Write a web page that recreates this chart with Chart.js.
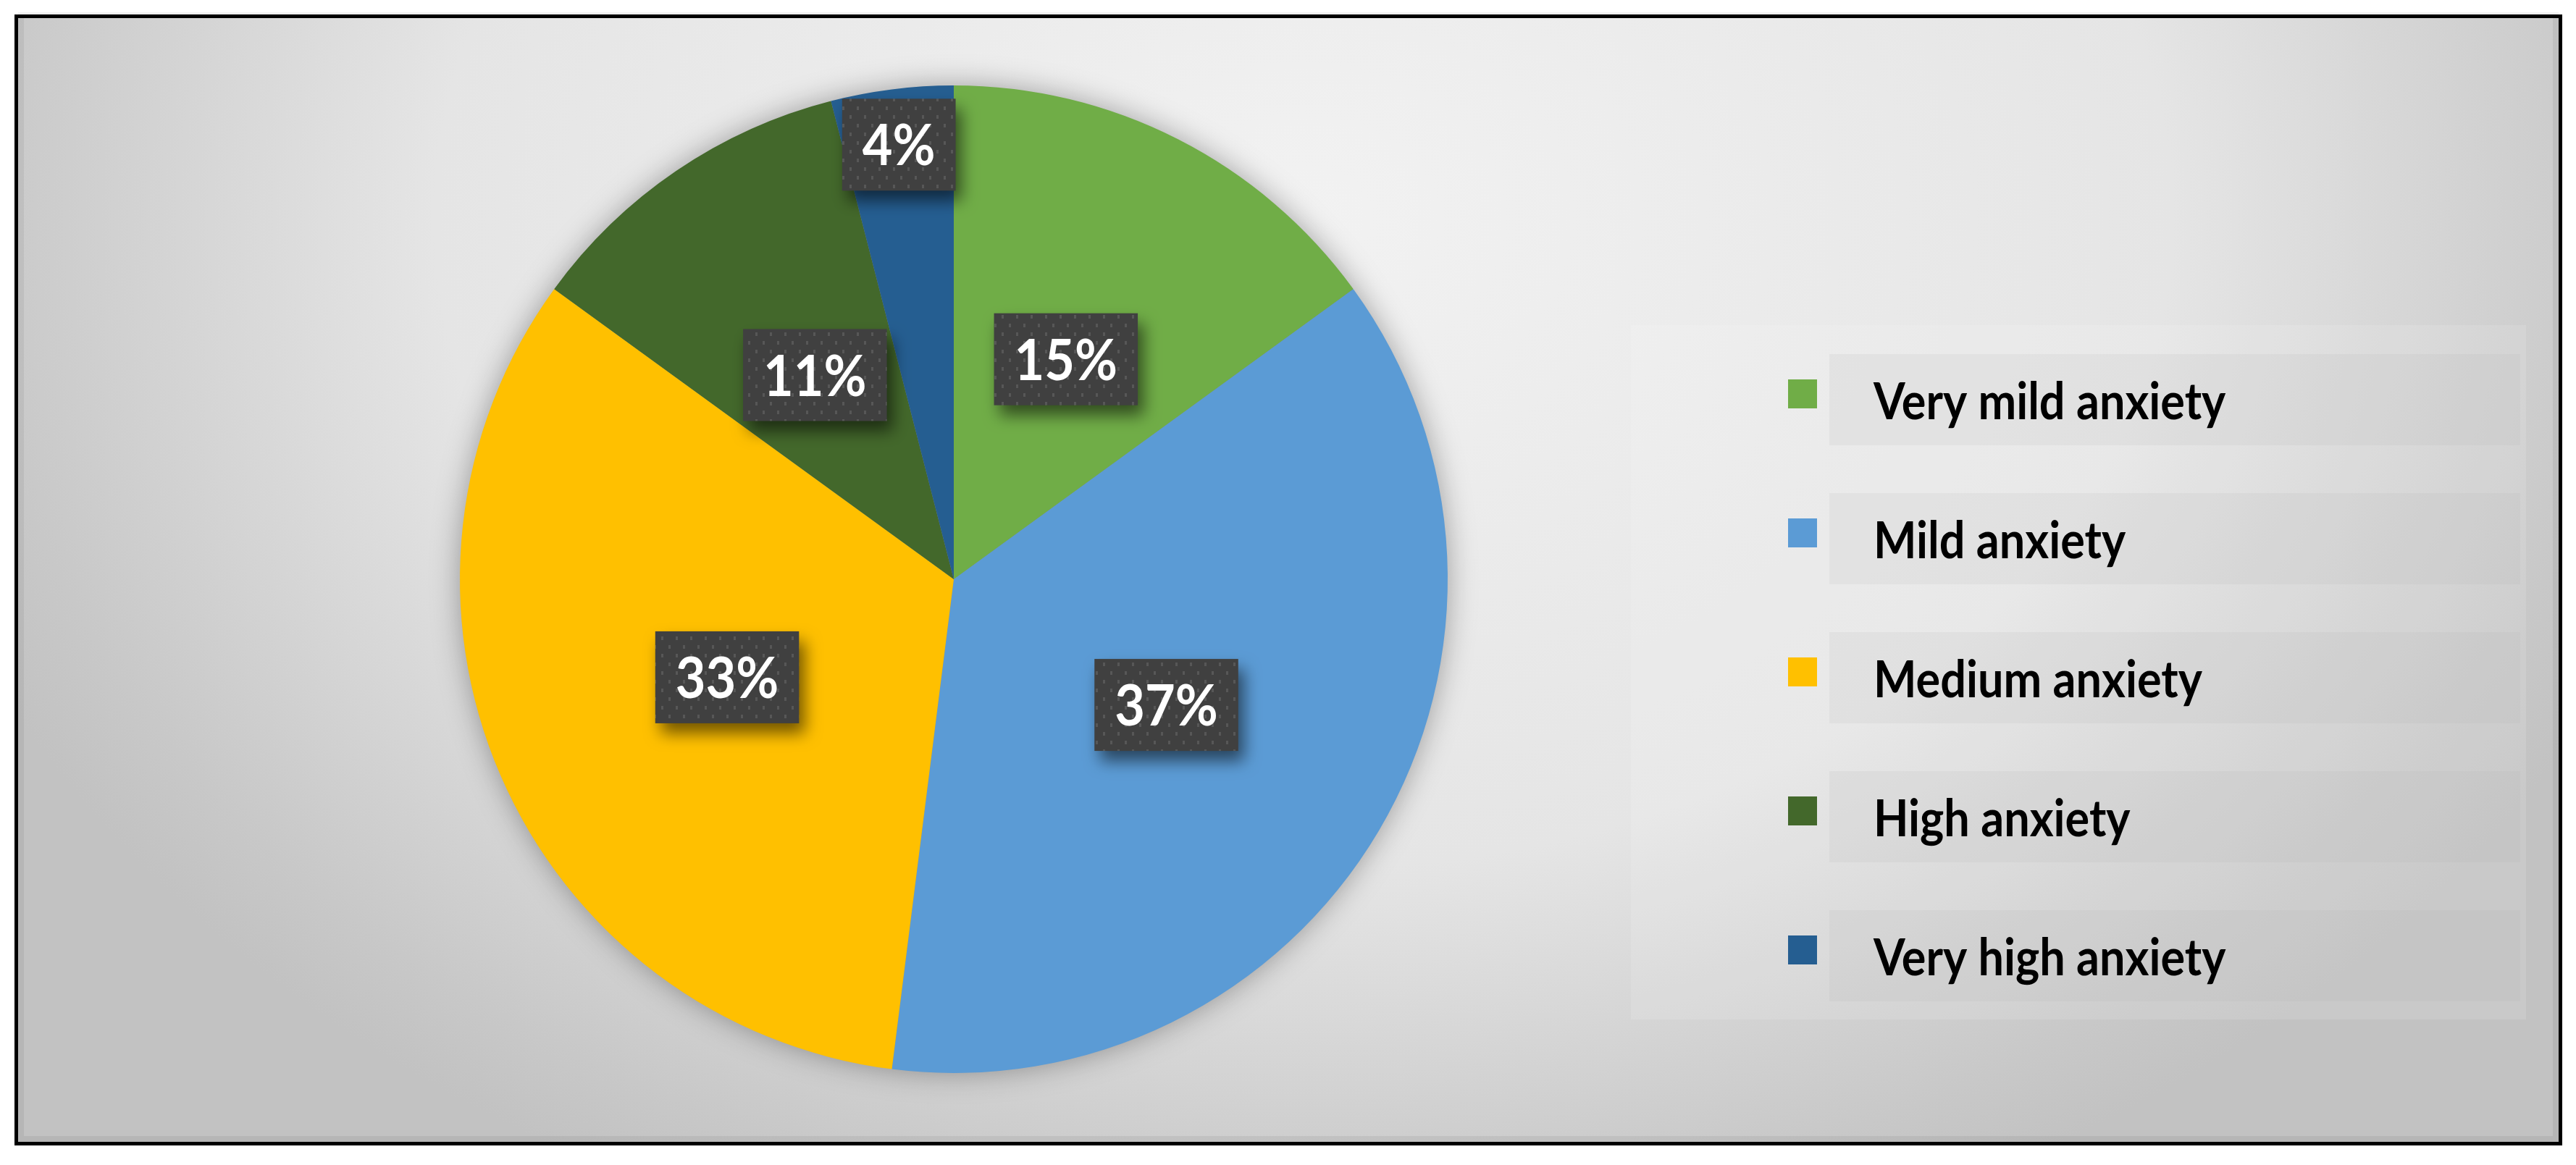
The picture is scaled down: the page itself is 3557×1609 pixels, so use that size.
<!DOCTYPE html>
<html>
<head>
<meta charset="utf-8">
<script src="https://cdn.jsdelivr.net/npm/chart.js@4/dist/chart.umd.min.js"></script>
<style>
    body { margin: 0; background: #ffffff; }
    canvas { display: block; }
</style>
</head>
<body>
<canvas id="anxietyChart" width="3557" height="1609"></canvas>
<script>
// chart data
const labels = ['Very mild anxiety', 'Mild anxiety', 'Medium anxiety', 'High anxiety', 'Very high anxiety'];
const values = [15, 37, 33, 11, 4];
const colors = ['#70AD47', '#5B9BD5', '#FFC000', '#43682B', '#255E91'];

const FONT = 'Lato, "Open Sans", sans-serif';

// dotted texture used inside the percentage boxes
function makeLabelPattern(ctx) {
    const tile = document.createElement('canvas');
    tile.width = 20;
    tile.height = 24;
    const t = tile.getContext('2d');
    t.fillStyle = '#404040';
    t.fillRect(0, 0, 20, 24);
    t.fillStyle = '#575757';
    t.fillRect(3, 3, 3, 5);
    t.fillRect(13, 15, 3, 5);
    return ctx.createPattern(tile, 'repeat');
}

// text drawn slightly stretched vertically, like the narrow font in the original
function tallText(ctx, text, x, y, sy) {
    ctx.save();
    ctx.translate(x, y);
    ctx.scale(1, sy);
    ctx.fillText(text, 0, 0);
    ctx.restore();
}

// frame + grey gradient behind everything
const backgroundPlugin = {
    id: 'background',
    beforeDraw(chart) {
        const ctx = chart.ctx;
        ctx.save();
        ctx.fillStyle = '#ffffff';
        ctx.fillRect(0, 0, chart.width, chart.height);
        ctx.fillStyle = '#000000';
        ctx.fillRect(20, 20, 3518, 1562);

        ctx.beginPath();
        ctx.rect(25, 25, 3508, 1552);
        ctx.clip();
        ctx.translate(1800, 300);
        ctx.scale(1, 0.75);
        const g = ctx.createRadialGradient(0, 0, 0, 0, 0, 2000);
        g.addColorStop(0, '#f2f2f2');
        g.addColorStop(0.6, '#e5e5e5');
        g.addColorStop(0.92, '#c8c8c8');
        g.addColorStop(1, '#c2c2c2');
        ctx.fillStyle = g;
        ctx.fillRect(-2000, -2000, 4000, 4000);
        ctx.restore();

        ctx.save();
        ctx.strokeStyle = 'rgba(0,0,0,0.06)';
        ctx.lineWidth = 8;
        ctx.strokeRect(29, 21, 3500, 1552);
        ctx.restore();
    }
};

// soft shadow under the pie
const pieShadowPlugin = {
    id: 'pieShadow',
    beforeDatasetsDraw(chart) {
        const arc = chart.getDatasetMeta(0).data[0];
        if (!arc) return;
        const { x, y, outerRadius } = arc.getProps(['x', 'y', 'outerRadius'], true);
        const ctx = chart.ctx;
        ctx.save();
        ctx.shadowColor = 'rgba(0,0,0,0.35)';
        ctx.shadowBlur = 40;
        ctx.fillStyle = '#888888';
        ctx.beginPath();
        ctx.arc(x, y, outerRadius - 1, 0, Math.PI * 2);
        ctx.fill();
        ctx.restore();
    }
};

// dark percentage boxes on the slices
const percentLabelPlugin = {
    id: 'percentLabels',
    afterDatasetsDraw(chart) {
        const ctx = chart.ctx;
        const meta = chart.getDatasetMeta(0);
        const data = chart.data.datasets[0].data;
        const total = data.reduce((a, b) => a + b, 0);
        const pattern = makeLabelPattern(ctx);

        meta.data.forEach((arc, i) => {
            const p = arc.getProps(['x', 'y', 'startAngle', 'endAngle', 'outerRadius'], true);
            const mid = (p.startAngle + p.endAngle) / 2;
            const frac = data[i] / total;
            const rr = frac < 0.06 ? p.outerRadius * 0.887 : p.outerRadius * 0.5;
            const cx = p.x + Math.cos(mid) * rr;
            const cy = p.y + Math.sin(mid) * rr;
            const text = data[i] + '%';

            ctx.save();
            ctx.font = 'bold 72px ' + FONT;
            const w = ctx.measureText(text).width + 56;
            const h = 127;
            ctx.shadowColor = 'rgba(0,0,0,0.55)';
            ctx.shadowBlur = 22;
            ctx.shadowOffsetX = 8;
            ctx.shadowOffsetY = 14;
            ctx.fillStyle = pattern;
            ctx.fillRect(cx - w / 2, cy - h / 2, w, h);
            ctx.shadowColor = 'transparent';
            ctx.fillStyle = '#ffffff';
            ctx.textAlign = 'center';
            ctx.textBaseline = 'middle';
            tallText(ctx, text, cx, cy + 3, 1.1);
            ctx.restore();
        });
    }
};

// legend panel on the right
const legendPlugin = {
    id: 'sideLegend',
    afterDraw(chart) {
        const ctx = chart.ctx;
        const ds = chart.data.datasets[0];
        ctx.save();
        ctx.fillStyle = 'rgba(255,255,255,0.12)';
        ctx.fillRect(2252, 449, 1236, 959);

        chart.data.labels.forEach((label, i) => {
            const cy = 544 + i * 192;
            ctx.fillStyle = 'rgba(180,180,180,0.14)';
            ctx.fillRect(2526, cy - 55, 954, 126);

            ctx.fillStyle = ds.backgroundColor[i];
            ctx.fillRect(2469, cy - 20, 40, 40);

            ctx.fillStyle = '#000000';
            ctx.font = 'bold 63px ' + FONT;
            ctx.textAlign = 'left';
            ctx.textBaseline = 'alphabetic';
            tallText(ctx, label, 2587, cy + 35, 1.12);
        });
        ctx.restore();
    }
};

new Chart(document.getElementById('anxietyChart'), {
    type: 'pie',
    data: {
        labels: labels,
        datasets: [{
            data: values,
            backgroundColor: colors,
            borderWidth: 0
        }]
    },
    options: {
        responsive: false,
        devicePixelRatio: 1,
        animation: false,
        layout: {
            padding: { left: 635, right: 1558, top: 118, bottom: 127 }
        },
        plugins: {
            legend: { display: false },
            tooltip: { enabled: false }
        }
    },
    plugins: [backgroundPlugin, pieShadowPlugin, percentLabelPlugin, legendPlugin]
});
</script>
</body>
</html>
